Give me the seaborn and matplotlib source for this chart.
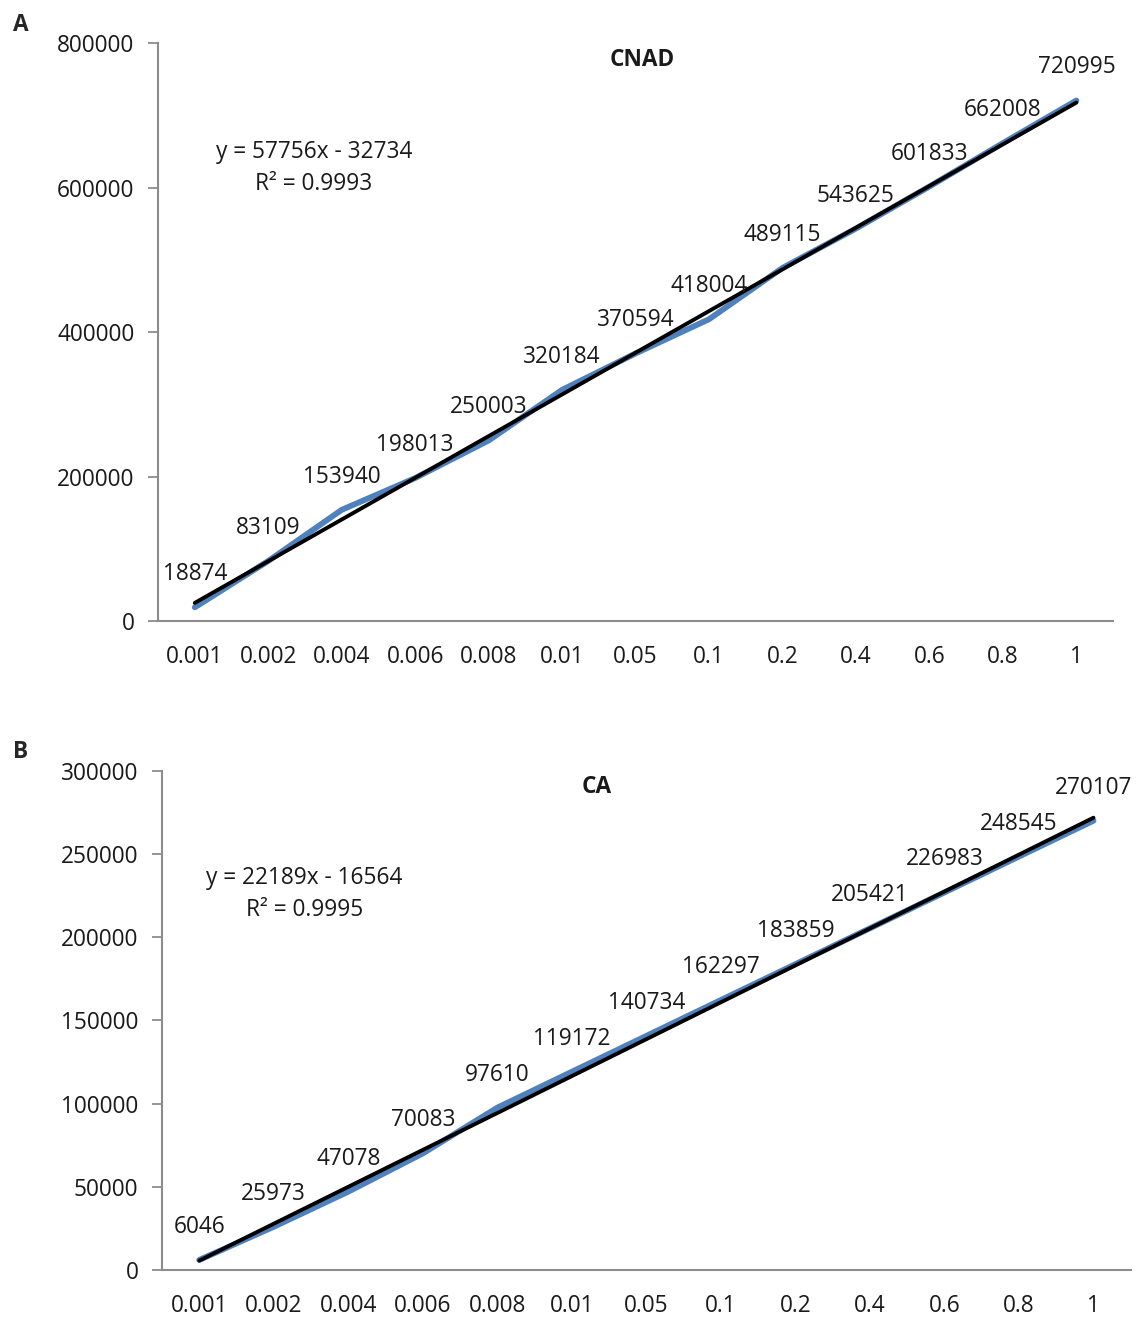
import numpy as np
import pandas as pd
import matplotlib
matplotlib.use("Agg")
import matplotlib.pyplot as plt
import seaborn as sns

sns.set_style("white")
plt.rcParams['font.family'] = ['Open Sans', 'DejaVu Sans']

# Data
concentrations = ["0.001", "0.002", "0.004", "0.006", "0.008", "0.01", "0.05",
                  "0.1", "0.2", "0.4", "0.6", "0.8", "1"]
cnad_area = [18874, 83109, 153940, 198013, 250003, 320184, 370594,
             418004, 489115, 543625, 601833, 662008, 720995]
ca_area = [6046, 25973, 47078, 70083, 97610, 119172, 140734,
           162297, 183859, 205421, 226983, 248545, 270107]

cnad_eq = "y = 57756x - 32734\nR² = 0.9993"
ca_eq = "y = 22189x - 16564\nR² = 0.9995"

AXIS_GREY = "#8c8c8c"
LINE_BLUE = "#4F81BD"
TEXT = "#1a1a1a"
FS = 16.3


def draw_panel(ax, values, title, eq_text, ymax, ystep, eq_pos, title_pos):
    df = pd.DataFrame({"pos": np.arange(len(values)), "val": values})
    sns.lineplot(data=df, x="pos", y="val", ax=ax, color=LINE_BLUE, lw=4.2)
    sns.regplot(data=df, x="pos", y="val", ax=ax, scatter=False, ci=None,
                truncate=True, color="black", line_kws={"lw": 2.8})

    for x, v in zip(df["pos"], df["val"]):
        ax.annotate(f"{v}", (x, v), xytext=(0, 33), textcoords="offset pixels",
                    ha="center", va="center", fontsize=FS, color=TEXT)

    ax.set_xlim(-0.5, len(values) - 0.5)
    ax.set_ylim(0, ymax)
    yt = np.arange(0, ymax + 1, ystep)
    ax.set_yticks(yt)
    ax.set_yticklabels([f"{int(t)}" for t in yt])
    ax.set_xticks(df["pos"])
    ax.set_xticklabels(concentrations)
    ax.set_xticks(np.arange(-0.5, len(values)), minor=True)
    ax.tick_params(axis="x", which="major", length=0, pad=17, labelsize=FS,
                   labelcolor=TEXT)
    ax.tick_params(axis="x", which="minor", length=7, width=1.3, color=AXIS_GREY,
                   direction="out")
    ax.tick_params(axis="y", length=7, width=1.3, color=AXIS_GREY, pad=10,
                   labelsize=FS, labelcolor=TEXT, left=True)
    ax.set_xlabel("")
    ax.set_ylabel("")
    for s in ["top", "right"]:
        ax.spines[s].set_visible(False)
    for s in ["left", "bottom"]:
        ax.spines[s].set_color(AXIS_GREY)
        ax.spines[s].set_linewidth(1.5)

    ax.text(title_pos[0], title_pos[1], title, transform=ax.transAxes, ha="center",
            va="center", fontsize=FS, fontweight="bold", color=TEXT)
    ax.text(eq_pos[0], eq_pos[1], eq_text, transform=ax.transAxes, ha="center",
            va="center", fontsize=FS, color=TEXT, linespacing=1.45)


fig = plt.figure(figsize=(11.37, 13.17), dpi=100)
ax_a = fig.add_axes([0.139, 0.5285, 0.840, 0.4385])
ax_b = fig.add_axes([0.1425, 0.0357, 0.852, 0.3789])

draw_panel(ax_a, cnad_area, "CNAD", cnad_eq, 800000, 200000, (0.163, 0.785), (0.507, 0.971))
draw_panel(ax_b, ca_area, "CA", ca_eq, 300000, 50000, (0.147, 0.753), (0.449, 0.968))

fig.text(0.011, 0.981, "A", fontsize=FS, fontweight="bold", va="center")
fig.text(0.011, 0.429, "B", fontsize=FS, fontweight="bold", va="center")

fig.savefig("out.png", dpi=100)
